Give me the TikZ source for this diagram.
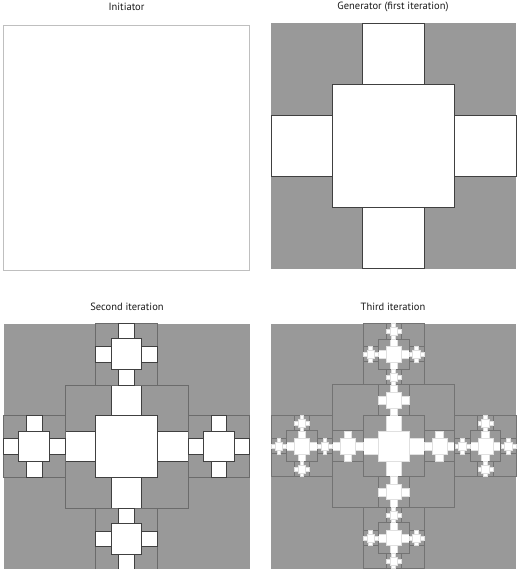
\documentclass[tikz,border=0pt]{standalone}
\usepackage{fontspec}
\setmainfont{PT Sans}
\begin{document}
\begin{tikzpicture}[x=1pt,y=-1pt]
\definecolor{fgrey}{HTML}{999999}
\tikzset{
  greysq/.style={fill=fgrey,draw=black!58,line width=0.7pt},
  leafsq/.style={fill=white,draw=black!75,line width=0.8pt},
  title/.style={font=\fontsize{10.5}{12}\selectfont,text=black!90,anchor=center}
}
\newcommand\piece[4]{%
  \begingroup
  \pgfmathsetmacro\cx{#1}\pgfmathsetmacro\cy{#2}\pgfmathsetmacro\sz{#3}%
  \edef\dep{\number#4}%
  \pgfmathsetmacro\pa{\sz/2}%
  \ifnum\dep=1
    \path[leafsq] (\cx-\pa,\cy-\pa) rectangle (\cx+\pa,\cy+\pa);
  \else
    \path[greysq] (\cx-\pa,\cy-\pa) rectangle (\cx+\pa,\cy+\pa);
    \edef\dd{\the\numexpr\dep-1\relax}%
    \pgfmathsetmacro\pb{\sz/2}\pgfmathsetmacro\pc{\sz/4}\pgfmathsetmacro\pd{3*\sz/8}%
    \pgfmathsetmacro\xl{\cx-\pd}\pgfmathsetmacro\xr{\cx+\pd}%
    \pgfmathsetmacro\yt{\cy-\pd}\pgfmathsetmacro\yb{\cy+\pd}%
    \piece{\cx}{\cy}{\pb}{\dd}%
    \piece{\cx}{\yt}{\pc}{\dd}%
    \piece{\cx}{\yb}{\pc}{\dd}%
    \piece{\xl}{\cy}{\pc}{\dd}%
    \piece{\xr}{\cy}{\pc}{\dd}%
  \fi
  \endgroup}
\newcommand\panel[4]{% x y (top-left) size depth
  \begingroup
  \pgfmathsetmacro\px{#1}\pgfmathsetmacro\py{#2}\pgfmathsetmacro\ps{#3}%
  \path[fill=fgrey] (\px,\py) rectangle (\px+\ps,\py+\ps);
  \pgfmathsetmacro\qx{\px+\ps/2}\pgfmathsetmacro\qy{\py+\ps/2}%
  \pgfmathsetmacro\qd{3*\ps/8}\pgfmathsetmacro\qb{\ps/2}\pgfmathsetmacro\qc{\ps/4}%
  \pgfmathsetmacro\ql{\qx-\qd}\pgfmathsetmacro\qr{\qx+\qd}%
  \pgfmathsetmacro\qt{\qy-\qd}\pgfmathsetmacro\qbt{\qy+\qd}%
  \piece{\qx}{\qy}{\qb}{#4}%
  \piece{\qx}{\qt}{\qc}{#4}%
  \piece{\qx}{\qbt}{\qc}{#4}%
  \piece{\ql}{\qy}{\qc}{#4}%
  \piece{\qr}{\qy}{\qc}{#4}%
  \endgroup}
\useasboundingbox (0,0) rectangle (516,569);
% titles
\node[title] (t1) at (126.5,7) {Initiator};
\node[title] (t2) at (393,7) {Generator (first iteration)};
\node[title] (t3) at (127,306.5) {Second iteration};
\node[title] (t4) at (393,306.5) {Third iteration};
% initiator
\path[fill=white,draw=black!25,line width=0.8pt] (3.5,25) rectangle (249.5,270);
% generator
\panel{271}{23.5}{245}{1}
% second iteration
\panel{3.5}{323.5}{246}{2}
% third iteration
\begin{scope}[leafsq/.style={fill=white,draw=black!12,line width=0.3pt},greysq/.style={fill=fgrey,draw=black!55,line width=0.6pt}]
\panel{271}{323.5}{245}{3}
\end{scope}
\end{tikzpicture}
\end{document}
